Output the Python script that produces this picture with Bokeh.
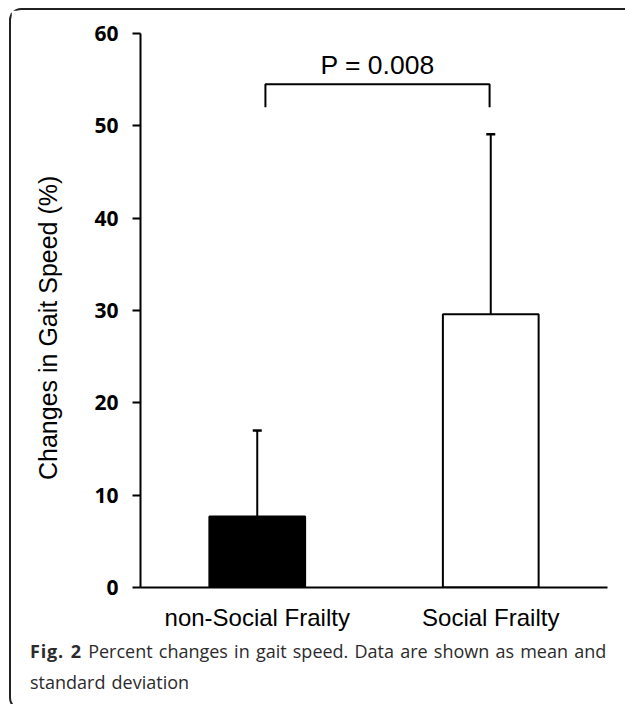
from bokeh.plotting import figure
from bokeh.models import (ColumnDataSource, FactorRange, Range1d, FixedTicker,
                          Whisker, TeeHead, Div)
from bokeh.layouts import column
from bokeh.core.properties import value
from bokeh.embed import file_html
from bokeh.resources import INLINE

# ---- data ----
categories = ["non-Social Frailty", "Social Frailty"]
means = [7.7, 29.6]
sds = [9.3, 19.5]
bar_colors = ["black", "white"]
y_ticks = [0, 10, 20, 30, 40, 50, 60]
p_text = "P = 0.008"
bracket_x = [0.535, 0.535, 1.495, 1.495]
bracket_y = [52.0, 54.5, 54.5, 52.0]
p_text_pos = (1.015, 56.6)
caption_bold = "Fig. 2"
caption_line1 = "Percent changes in gait speed. Data are shown as mean and"
caption_line2 = "standard deviation"
y_label = "Changes in Gait Speed (%)"

src = ColumnDataSource(dict(
    cat=categories,
    mean=means,
    upper=[m + s for m, s in zip(means, sds)],
    color=bar_colors,
))

p = figure(width=614, height=630, x_range=FactorRange(factors=categories, range_padding=0),
           y_range=Range1d(0, 60), output_backend="svg", toolbar_location=None,
           min_border_left=129, min_border_right=18, min_border_top=23, min_border_bottom=53)
p.outline_line_color = None
p.grid.visible = False
p.background_fill_color = "white"
p.border_fill_color = "white"

p.vbar(x="cat", top="mean", bottom=0, width=0.41, source=src, fill_color="color",
       line_color="black", line_width=2)

w = Whisker(base="cat", lower="mean", upper="upper", source=src, dimension="height",
            line_color="black", line_width=2, lower_head=None,
            upper_head=TeeHead(size=9, line_color="black", line_width=2.5))
p.add_layout(w)

p.line(bracket_x, bracket_y, line_color="black", line_width=2)
p.text(x=[p_text_pos[0]], y=[p_text_pos[1]], text=[p_text], text_font=value("Liberation Sans"),
       text_font_size="26.5px", text_align="center", text_baseline="alphabetic", text_color="black")

# axes
ya = p.yaxis[0]
ya.ticker = FixedTicker(ticks=y_ticks)
ya.axis_line_width = 2
ya.axis_line_color = "black"
ya.major_tick_line_width = 2
ya.major_tick_out = 8
ya.major_tick_in = 0
ya.minor_tick_line_color = None
ya.major_label_text_font = "Open Sans"
ya.major_label_text_font_style = "bold"
ya.major_label_text_font_size = "21px"
ya.major_label_text_color = "black"
ya.major_label_standoff = 14
# trailing no-break spaces shift the centred label downwards, as in the original
ya.axis_label = y_label + "\u00a0" * 5
ya.axis_label_text_font = "Liberation Sans"
ya.axis_label_text_font_style = "normal"
ya.axis_label_text_font_size = "25px"
ya.axis_label_text_color = "black"
ya.axis_label_standoff = 29

xa = p.xaxis[0]
xa.axis_line_width = 2
xa.axis_line_color = "black"
xa.major_tick_line_color = None
xa.minor_tick_line_color = None
xa.major_tick_out = 0
xa.major_tick_in = 0
xa.major_label_text_font = "Liberation Sans"
xa.major_label_text_font_size = "24px"
xa.major_label_text_color = "black"
xa.major_label_standoff = 16

caption_html = (
    '<div style="font-family: \'Open Sans\', sans-serif; font-size: 18px; line-height: 31px; '
    'color: #2b2b2b; padding-left: 14px; margin-top: -9px; white-space: nowrap; word-spacing: 1.5px;">'
    f'<b style="letter-spacing: 0.8px;">{caption_bold}</b> {caption_line1}<br>{caption_line2}</div>'
)
cap = Div(text=caption_html, width=614, height=58)

layout = column(p, cap, styles={
    "margin-left": "9px", "margin-top": "8px",
    "border-left": "2px solid #222", "border-top": "2px solid #222",
    "border-bottom": "2px solid #222",
    "border-top-left-radius": "12px", "border-bottom-left-radius": "12px",
})

open("out.html", "w").write(file_html(layout, INLINE))
